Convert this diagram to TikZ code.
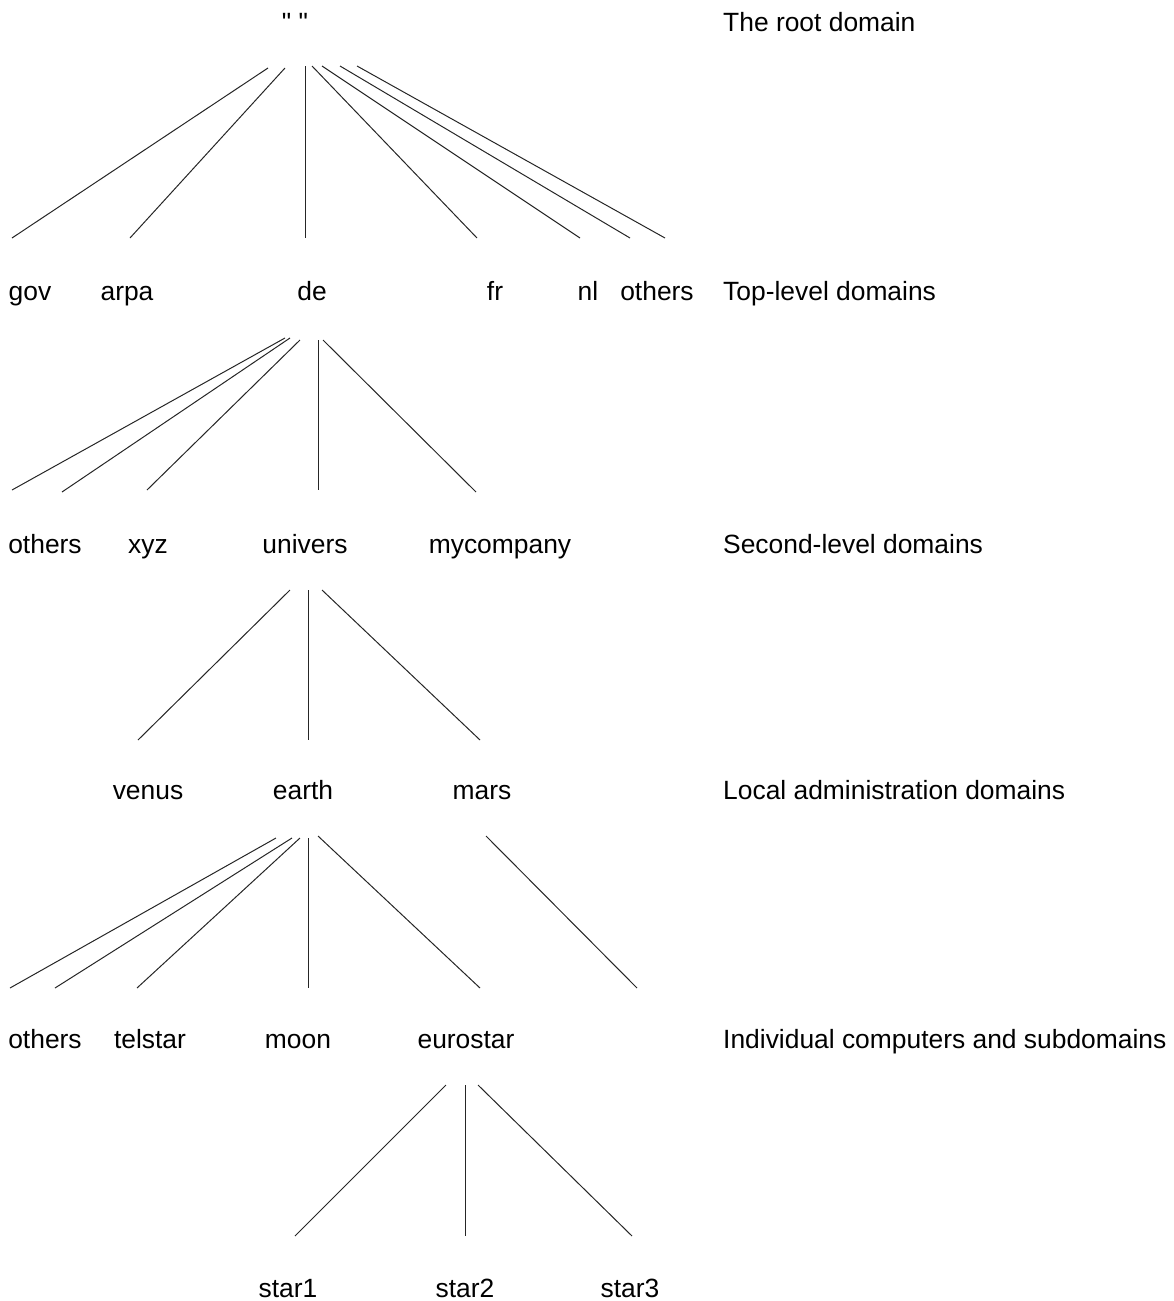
\documentclass[tikz,border=0pt]{standalone}
\usepackage{fontspec}
\setmainfont{Liberation Sans}
\begin{document}
\begin{tikzpicture}[x=1pt,y=-1pt,
  lbl/.style={anchor=base,inner sep=0pt,font=\fontsize{26.4}{30}\selectfont},
  side/.style={lbl,anchor=base west},
  edge/.style={draw=black!85,line width=1pt}]
\useasboundingbox (0,0) rectangle (1173,1301);
% level labels
\node[side] (l0) at (723,31) {The root domain};
\node[side] (l1) at (723,300) {Top-level domains};
\node[side] (l2) at (723,553) {Second-level domains};
\node[side] (l3) at (723,799) {Local administration domains};
\node[side] (l4) at (723,1048) {Individual computers and subdomains};
% nodes
\node[lbl] (root) at (295,31) {\textquotedbl\ \textquotedbl};
\node[lbl] (gov) at (30,300) {gov};
\node[lbl] (arpa) at (127,300) {arpa};
\node[lbl] (de) at (312,300) {de};
\node[lbl] (fr) at (495,300) {fr};
\node[lbl] (nl) at (588,300) {nl};
\node[lbl] (oth1) at (657,300) {others};
\node[lbl] (oth2) at (45,553) {others};
\node[lbl] (xyz) at (148,553) {xyz};
\node[lbl] (univers) at (305,553) {univers};
\node[lbl] (mycompany) at (500,553) {mycompany};
\node[lbl] (venus) at (148,799) {venus};
\node[lbl] (earth) at (303,799) {earth};
\node[lbl] (mars) at (482,799) {mars};
\node[lbl] (oth3) at (45,1048) {others};
\node[lbl] (telstar) at (150,1048) {telstar};
\node[lbl] (moon) at (298,1048) {moon};
\node[lbl] (eurostar) at (466,1048) {eurostar};
\node[lbl] (star1) at (288,1297) {star1};
\node[lbl] (star2) at (465,1297) {star2};
\node[lbl] (star3) at (630,1297) {star3};
% level 0 -> 1
\coordinate (a1) at (268,68);  \coordinate (b1) at (12,238);
\coordinate (a2) at (285,68);  \coordinate (b2) at (130,238);
\coordinate (a3) at (305,66);  \coordinate (b3) at (305,238);
\coordinate (a4) at (312,66);  \coordinate (b4) at (477,238);
\coordinate (a5) at (322,66);  \coordinate (b5) at (580,238);
\coordinate (a6) at (340,66);  \coordinate (b6) at (630,238);
\coordinate (a7) at (357,66);  \coordinate (b7) at (665,238);
\foreach \i in {1,...,7} \draw[edge] (a\i) -- (b\i);
% level 1 -> 2
\coordinate (c1) at (285,338); \coordinate (d1) at (12,490);
\coordinate (c2) at (290,338); \coordinate (d2) at (62,492);
\coordinate (c3) at (300,340); \coordinate (d3) at (147,490);
\coordinate (c4) at (318,340); \coordinate (d4) at (318,490);
\coordinate (c5) at (323,340); \coordinate (d5) at (476,492);
\foreach \i in {1,...,5} \draw[edge] (c\i) -- (d\i);
% level 2 -> 3
\coordinate (e1) at (290,590); \coordinate (f1) at (138,740);
\coordinate (e2) at (308,590); \coordinate (f2) at (308,740);
\coordinate (e3) at (322,590); \coordinate (f3) at (480,740);
\foreach \i in {1,...,3} \draw[edge] (e\i) -- (f\i);
% level 3 -> 4
\coordinate (g1) at (276,838); \coordinate (h1) at (10,988);
\coordinate (g2) at (292,838); \coordinate (h2) at (55,988);
\coordinate (g3) at (300,838); \coordinate (h3) at (137,988);
\coordinate (g4) at (308,838); \coordinate (h4) at (308,988);
\coordinate (g5) at (318,836); \coordinate (h5) at (480,988);
\coordinate (g6) at (486,836); \coordinate (h6) at (637,988);
\foreach \i in {1,...,6} \draw[edge] (g\i) -- (h\i);
% level 4 -> 5
\coordinate (k1) at (446,1085); \coordinate (m1) at (295,1236);
\coordinate (k2) at (465,1085); \coordinate (m2) at (465,1236);
\coordinate (k3) at (478,1085); \coordinate (m3) at (632,1236);
\foreach \i in {1,...,3} \draw[edge] (k\i) -- (m\i);
\end{tikzpicture}
\end{document}
